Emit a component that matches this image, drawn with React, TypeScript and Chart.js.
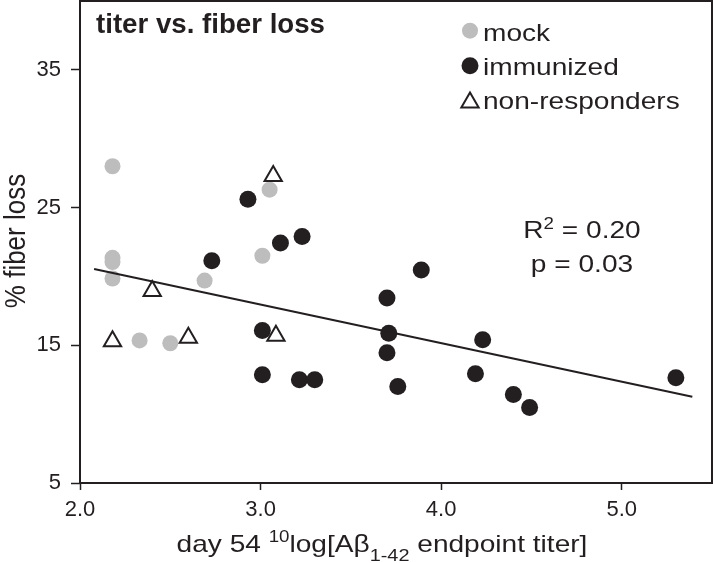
import { useEffect, useRef } from 'react';
import { Chart, registerables } from 'chart.js';

Chart.register(...registerables);

const FONT = '"Liberation Sans", Arial, Helvetica, sans-serif';
const INK = '#231f20';
const GRAY = '#bdbdbd';
const SX = 1.17; // horizontal stretch of the reference lettering

// ---- data ----
const chartTitle = 'titer vs. fiber loss';
const seriesNames = ['mock', 'immunized', 'non-responders'];

const mockX = [2.18, 2.18, 2.18, 2.18, 3.05, 3.01, 2.69, 2.33, 2.5];
const mockY = [28.0, 21.35, 21.05, 19.85, 26.3, 21.5, 19.7, 15.35, 15.15];

const immunizedX = [2.93, 3.11, 3.23, 2.73, 3.01, 3.01, 3.215, 3.3, 3.7, 3.71, 3.7, 3.76, 3.89, 4.23, 4.19, 4.4, 4.49, 5.3];
const immunizedY = [25.6, 22.42, 22.9, 21.14, 16.07, 12.86, 12.5, 12.5, 18.43, 15.87, 14.45, 12.0, 20.46, 15.41, 12.93, 11.43, 10.49, 12.64];

const nonResponderX = [3.07, 2.4, 2.18, 2.6, 3.085];
const nonResponderY = [27.3, 18.95, 15.3, 15.55, 15.7];

const fitX = [2.078, 5.391];
const fitY = [20.54, 11.27];

const xTickValues = [2, 3, 4, 5];
const yTickValues = [5, 15, 25, 35];
const xRange = [2, 5.5];
const yRange = [5, 40];

const r2Value = '0.20';
const pValue = '0.03';

const pts = (xs: number[], ys: number[]) => xs.map((x, i) => ({ x, y: ys[i] }));

type Run = { t: string; size: number; bold?: boolean; dy?: number };

const fontOf = (r: Run) => `${r.bold ? 'bold ' : ''}${r.size}px ${FONT}`;

function runsWidth(ctx: CanvasRenderingContext2D, runs: Run[], sx: number) {
  let w = 0;
  for (const r of runs) {
    ctx.font = fontOf(r);
    w += ctx.measureText(r.t).width * sx;
  }
  return w;
}

function drawRuns(
  ctx: CanvasRenderingContext2D,
  runs: Run[],
  x: number,
  y: number,
  align: 'left' | 'center',
  targetWidth?: number
) {
  ctx.save();
  let sx = SX;
  if (targetWidth) sx = targetWidth / runsWidth(ctx, runs, 1);
  const total = runsWidth(ctx, runs, sx);
  let cx = align === 'center' ? x - total / 2 : x;
  ctx.fillStyle = INK;
  ctx.textAlign = 'left';
  ctx.textBaseline = 'alphabetic';
  for (const r of runs) {
    ctx.font = fontOf(r);
    const w = ctx.measureText(r.t).width * sx;
    ctx.save();
    ctx.translate(cx, y + (r.dy || 0));
    ctx.scale(sx, 1);
    ctx.fillText(r.t, 0, 0);
    ctx.restore();
    cx += w;
  }
  ctx.restore();
}

const decorPlugin = {
  id: 'decor',
  afterDraw(chart: any) {
    const { ctx, chartArea: a } = chart;
    ctx.save();
    // frame
    ctx.strokeStyle = INK;
    ctx.lineWidth = 2;
    ctx.strokeRect(a.left, a.top, a.right - a.left, a.bottom - a.top);

    // title
    drawRuns(ctx, [{ t: chartTitle, size: 27, bold: true }], 96, 33, 'left', 229);

    // legend
    const lx = 470;
    const tx = 483;
    ctx.fillStyle = GRAY;
    ctx.beginPath();
    ctx.arc(lx, 30.7, 8, 0, Math.PI * 2);
    ctx.fill();
    ctx.fillStyle = INK;
    ctx.beginPath();
    ctx.arc(lx, 65.7, 8.5, 0, Math.PI * 2);
    ctx.fill();
    const tr = 10;
    const tcy = 102.5;
    ctx.beginPath();
    for (let k = 0; k < 3; k++) {
      const ang = (k * 2 * Math.PI) / 3;
      const px = lx + Math.sin(ang) * tr;
      const py = tcy - Math.cos(ang) * tr;
      if (k === 0) ctx.moveTo(px, py);
      else ctx.lineTo(px, py);
    }
    ctx.closePath();
    ctx.fillStyle = '#fff';
    ctx.fill();
    ctx.strokeStyle = INK;
    ctx.lineWidth = 2;
    ctx.stroke();
    drawRuns(ctx, [{ t: seriesNames[0], size: 24 }], tx, 40.5, 'left');
    drawRuns(ctx, [{ t: seriesNames[1], size: 24 }], tx, 74.5, 'left');
    drawRuns(ctx, [{ t: seriesNames[2], size: 24 }], tx, 108.5, 'left');

    // statistics
    drawRuns(ctx, [{ t: 'R', size: 24 }, { t: '2', size: 16, dy: -9 }, { t: ' = ' + r2Value, size: 24 }], 582, 238, 'center');
    drawRuns(ctx, [{ t: 'p = ' + pValue, size: 24 }], 582, 272, 'center');

    // x-axis title
    drawRuns(
      ctx,
      [
        { t: 'day 54 ', size: 24 },
        { t: '10', size: 16, dy: -10 },
        { t: 'log[Aβ', size: 24 },
        { t: '1-42', size: 17, dy: 9 },
        { t: ' endpoint titer]', size: 24 },
      ],
      382,
      552,
      'center'
    );

    // y-axis title
    ctx.save();
    ctx.translate(25, 241);
    ctx.scale(1.12, 1);
    ctx.rotate(-Math.PI / 2);
    ctx.font = `26px ${FONT}`;
    ctx.fillStyle = INK;
    ctx.textAlign = 'center';
    ctx.textBaseline = 'alphabetic';
    ctx.fillText('% fiber loss', 0, 0);
    ctx.restore();

    ctx.restore();
  },
};

const zeroPad = (s: any) => {
  s.paddingTop = 0;
  s.paddingBottom = 0;
  s.paddingLeft = 0;
  s.paddingRight = 0;
};

export default function App() {
  const ref = useRef<HTMLCanvasElement | null>(null);

  useEffect(() => {
    if (!ref.current) return;
    const chart = new Chart(ref.current, {
      type: 'scatter',
      data: {
        datasets: [
          {
            type: 'line',
            label: 'fit',
            data: pts(fitX, fitY),
            borderColor: INK,
            borderWidth: 2,
            pointRadius: 0,
            fill: false,
            order: 0,
          } as any,
          {
            label: seriesNames[2],
            data: pts(nonResponderX, nonResponderY),
            pointStyle: 'triangle',
            pointRadius: 10,
            backgroundColor: '#ffffff',
            borderColor: INK,
            borderWidth: 2,
            order: 1,
          },
          {
            label: seriesNames[1],
            data: pts(immunizedX, immunizedY),
            pointRadius: 8.5,
            backgroundColor: INK,
            borderColor: INK,
            borderWidth: 0,
            order: 2,
          },
          {
            label: seriesNames[0],
            data: pts(mockX, mockY),
            pointRadius: 8,
            backgroundColor: GRAY,
            borderColor: GRAY,
            borderWidth: 0,
            order: 3,
          },
        ],
      },
      options: {
        animation: false,
        responsive: false,
        devicePixelRatio: 1,
        layout: { autoPadding: false, padding: { top: 1, right: 1, left: 0, bottom: 0 } },
        plugins: { legend: { display: false }, tooltip: { enabled: false } },
        events: [],
        scales: {
          x: {
            type: 'linear',
            min: xRange[0],
            max: xRange[1],
            afterBuildTicks: (s: any) => {
              s.ticks = xTickValues.map((v) => ({ value: v }));
            },
            afterFit: (s: any) => {
              s.height = 80;
              zeroPad(s);
            },
            grid: { drawOnChartArea: false, drawTicks: true, tickLength: 7, tickColor: INK, tickWidth: 1.5 },
            border: { display: false },
            ticks: {
              color: INK,
              font: { family: FONT, size: 22 },
              padding: 7,
              maxRotation: 0,
              autoSkip: false,
              callback: (v: any) => Number(v).toFixed(1),
            },
          },
          y: {
            type: 'linear',
            min: yRange[0],
            max: yRange[1],
            afterBuildTicks: (s: any) => {
              s.ticks = yTickValues.map((v) => ({ value: v }));
            },
            afterFit: (s: any) => {
              s.width = 80;
              zeroPad(s);
            },
            grid: { drawOnChartArea: false, drawTicks: true, tickLength: 9, tickColor: INK, tickWidth: 1.5 },
            border: { display: false },
            ticks: {
              color: INK,
              font: { family: FONT, size: 22 },
              padding: 10,
              autoSkip: false,
              callback: (v: any) => String(v),
            },
          },
        },
      },
      plugins: [decorPlugin],
    });
    return () => chart.destroy();
  }, []);

  return (
    <div style={{ position: 'fixed', left: 0, top: 0, width: 713, height: 563, background: '#fff' }}>
      <canvas ref={ref} width={713} height={563} style={{ display: 'block' }} />
    </div>
  );
}
